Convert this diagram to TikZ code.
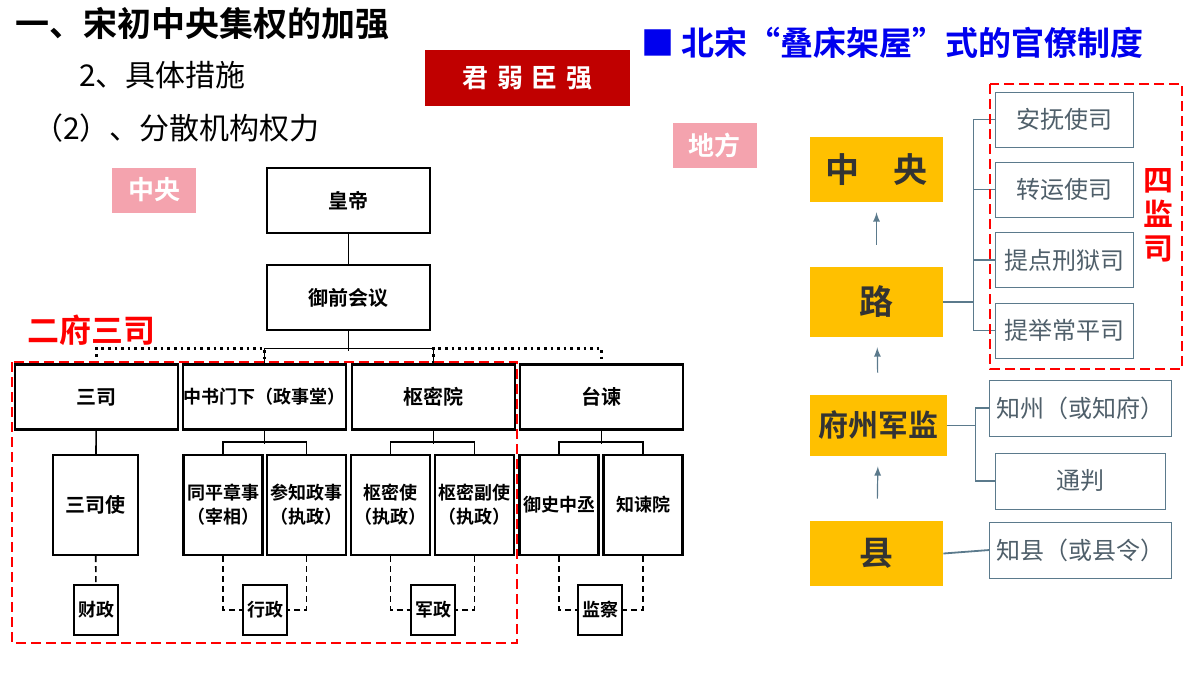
\documentclass[tikz,border=0pt]{standalone}
\usepackage{fontspec}
\setmainfont{Noto Sans CJK SC}
\newfontfamily\cjkb{Noto Sans CJK SC Bold}
\usepackage{tikz}
\definecolor{redbar}{HTML}{C00000}
\definecolor{pinktag}{HTML}{F4A3AE}
\definecolor{goldbox}{HTML}{FFC000}
\definecolor{slate}{HTML}{5B7A8C}
\definecolor{slatetext}{HTML}{4F5F6A}
\definecolor{titleblue}{HTML}{0000EE}

\begin{document}
\begin{tikzpicture}
[x=0.5pt, y=-0.5pt,
org/.style ={rectangle, draw=black, line width=1.2pt, fill=white, align=center, inner sep=0pt, font=\cjkb\fontsize{10}{12}\selectfont},
top/.style ={org, minimum width=81.5pt, minimum height=32.5pt},
sub/.style ={org, minimum width=39.5pt, minimum height=50pt, font=\cjkb\fontsize{9}{12}\selectfont},
duty/.style ={org, minimum width=22pt, minimum height=25pt, font=\cjkb\fontsize{9}{11}\selectfont},
tag/.style ={rectangle, fill=pinktag, text=white, font=\cjkb\fontsize{13}{15}\selectfont, minimum width=42pt, minimum height=22.5pt},
level/.style ={rectangle, fill=goldbox, text=black!80, font=\cjkb\fontsize{17}{19}\selectfont, minimum width=66.5pt},
office/.style ={rectangle, draw=slate, fill=white, text=slatetext, font=\fontsize{12}{14}\selectfont, minimum width=69pt, minimum height=27.5pt},
local/.style ={office, minimum width=85pt, minimum height=28pt},
line/.style ={draw, line width=0.8pt},
dline/.style ={draw, line width=0.8pt, dash pattern=on 3pt off 2pt},
dotline/.style ={draw, line width=1.3pt, dotted},
conn/.style ={draw=slate, line width=0.9pt},
up/.style ={draw=slate, line width=0.6pt, -latex, shorten <=11pt, shorten >=5pt},
group/.style ={draw=red, line width=1.4pt, dash pattern=on 5pt off 2.5pt}]
\useasboundingbox (0,0) rectangle (1200,675);
% titles
\draw (8, 24) node[anchor=west, font=\cjkb\fontsize{17}{19}\selectfont] (title) {一、宋初中央集权的加强};
\draw (72, 75) node[anchor=west, font=\fontsize{15}{17}\selectfont] (step2) {2、具体措施};
\draw (26, 128) node[anchor=west, font=\fontsize{15}{17}\selectfont] (step22) {（2）、分散机构权力};
\draw (527.5, 78) node[rectangle, fill=redbar, text=white, minimum width=102.5pt, minimum height=28pt, font=\cjkb\fontsize{13}{15}\selectfont] (weak) {君\,\,弱\,\,臣\,\,强};
\draw (634, 43) node[anchor=west, text=titleblue, font=\cjkb\fontsize{16.5}{18}\selectfont] (song) {■ 北宋“叠床架屋”式的官僚制度};
\draw (714.5, 145) node[tag] (difang) {地方};
\draw (154, 190) node[tag] (zhongyang) {中央};
\draw (20, 330) node[anchor=west, text=red, font=\cjkb\fontsize{16}{18}\selectfont] (erfu) {二府三司};
% central tree
\draw (348.5, 200.5) node[top] (hd) {皇帝};
\draw (348.5, 297.5) node[top] (yq) {御前会议};
\draw (96.5, 397) node[top] (sansi) {三司};
\draw (264.5, 397) node[top, font=\cjkb\fontsize{9}{12}\selectfont] (zs) {中书门下（政事堂）};
\draw (433.5, 397) node[top] (smy) {枢密院};
\draw (601.5, 397) node[top] (tj) {台谏};
\draw (95.5, 505) node[sub, minimum width=42.5pt, font=\cjkb\fontsize{10}{12}\selectfont] (ssh) {三司使};
\draw (223, 505) node[sub] (tp) {同平章事\\（宰相）};
\draw (306.5, 505) node[sub] (cz) {参知政事\\（执政）};
\draw (390.5, 505) node[sub] (smsh) {枢密使\\（执政）};
\draw (474.5, 505) node[sub] (smf) {枢密副使\\（执政）};
\draw (559, 505) node[sub] (ysh) {御史中丞};
\draw (643, 505) node[sub] (zjy) {知谏院};
\draw (96, 610) node[duty] (caizh) {财政};
\draw (265, 610) node[duty] (xingzh) {行政};
\draw (433, 610) node[duty] (junzh) {军政};
\draw (600, 610) node[duty] (jianch) {监察};
\draw[line] (hd) -- (yq);
\draw[line] (yq.south) -- ++(0,20);
\draw[line] (zs.north) -- ++(0,-15) -| (smy.north);
\draw[dotline] (sansi.north) -- ++(0,-15) -| (zs.north);
\draw[dotline] (smy.north) -- ++(0,-15) -| (tj.north);
\draw[line] (sansi) -- (ssh);
\draw[line] (zs.south) -- ++(0,13);
\draw[line] (tp.north) -- ++(0,-12) -| (cz.north);
\draw[line] (smy.south) -- ++(0,13);
\draw[line] (smsh.north) -- ++(0,-12) -| (smf.north);
\draw[line] (tj.south) -- ++(0,13);
\draw[line] (ysh.north) -- ++(0,-12) -| (zjy.north);
\draw[dline] (ssh) -- (caizh);
\draw[dline] (tp.south) |- (xingzh.west);
\draw[dline] (cz.south) |- (xingzh.east);
\draw[dline] (smsh.south) |- (junzh.west);
\draw[dline] (smf.south) |- (junzh.east);
\draw[dline] (ysh.south) |- (jianch.west);
\draw[dline] (zjy.south) |- (jianch.east);
\draw[group] (12, 362) rectangle (517, 643);
% local levels
\draw (876.5, 169.5) node[level, minimum height=32.5pt] (cent) {中\quad 央};
\draw (876.5, 302) node[level, minimum height=35pt] (lu) {路};
\draw (878.5, 425.5) node[level, minimum width=68.5pt, minimum height=30.5pt, font=\cjkb\fontsize{15}{17}\selectfont] (fz) {府州军监};
\draw (876.5, 553.5) node[level, minimum height=32.5pt] (xian) {县};
\draw[up] (lu) -- (cent);
\draw[up] (fz) -- (lu);
\draw[up] (xian) -- (fz);
\draw (1064, 119.5) node[office] (afs) {安抚使司};
\draw (1064, 189.5) node[office] (zys) {转运使司};
\draw (1064, 260) node[office] (tds) {提点刑狱司};
\draw (1064, 330.5) node[office] (tjs) {提举常平司};
\draw (1080.5, 408) node[local] (zz) {知州（或知府）};
\draw (1080.5, 481) node[local] (tongp) {通判};
\draw (1080.5, 550) node[local] (zx) {知县（或县令）};
\foreach \s in {afs, zys, tds, tjs}
  \draw[conn] (lu.east) -- ++(30,0) |- (\s.west);
\draw[conn] (fz.east) -- ++(28,0) |- (zz.west);
\draw[conn] (fz.east) -- ++(28,0) |- (tongp.west);
\draw[conn] (xian.east) -- (zx.west);
\draw[group] (990, 84) rectangle (1182, 369);
\draw (1158, 215) node[align=center, text=red, font=\cjkb\fontsize{15}{17}\selectfont] (sijs) {四\\监\\司};
\end{tikzpicture}
\end{document}
